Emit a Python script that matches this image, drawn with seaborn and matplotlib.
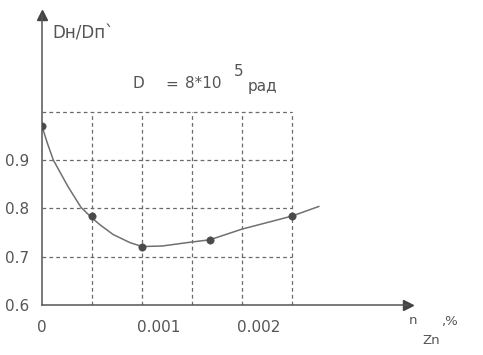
import matplotlib
matplotlib.use("Agg")
import matplotlib.pyplot as plt
import matplotlib.transforms as mtransforms
import seaborn as sns
import pandas as pd

# measured points
pt_x = [0.0, 0.0005, 0.001, 0.00168, 0.0025]
pt_y = [0.97, 0.785, 0.721, 0.735, 0.784]

# smooth fitted curve
curve_x = [0.0, 0.00005, 0.000113, 0.00026, 0.00039, 0.0005, 0.00058, 0.00071,
           0.00088, 0.001, 0.0012, 0.00145, 0.00168, 0.002, 0.0025, 0.00277]
curve_y = [0.97, 0.937, 0.90, 0.845, 0.802, 0.78, 0.766, 0.746,
           0.729, 0.721, 0.722, 0.729, 0.735, 0.757, 0.784, 0.804]

x_grid = [0.0005, 0.001, 0.0015, 0.002, 0.0025]
y_grid = [0.7, 0.8, 0.9, 1.0]
x_ticklabels = {0.0: "0", 0.001: "0.001", 0.002: "0.002"}
y_ticklabels = {0.6: "0.6", 0.7: "0.7", 0.8: "0.8", 0.9: "0.9"}

sns.set_style("white")
plt.rcParams['font.family'] = ['DejaVu Sans']

W, H = 483, 355
fig = plt.figure(figsize=(W / 100, H / 100), dpi=100)
ax = fig.add_axes([42 / W, 50 / H, 366 / W, 290 / H])

gray = "#6a6a6a"
ax.set_xlim(0, 0.00366)
ax.set_ylim(0.6, 1.2)

# dashed grid box
ax.vlines(x_grid, 0.6, 1.0, colors=gray, linestyles=(0, (3, 2.5)), linewidth=0.9)
ax.hlines(y_grid, 0, 0.0025, colors=gray, linestyles=(0, (3, 2.5)), linewidth=0.9)

curve = pd.DataFrame({"x": curve_x, "y": curve_y})
pts = pd.DataFrame({"x": pt_x, "y": pt_y})
sns.lineplot(data=curve, x="x", y="y", ax=ax, color="#707070", linewidth=1.1,
             sort=False, estimator=None)
sns.scatterplot(data=pts, x="x", y="y", ax=ax, color="#4a4a4a", s=28,
                edgecolor="#4a4a4a", zorder=5)

for s in ["top", "right"]:
    ax.spines[s].set_visible(False)
for s in ["left", "bottom"]:
    ax.spines[s].set_color("#555555")
    ax.spines[s].set_linewidth(1.1)

# arrow heads
ax.plot([0], [1], marker="^", markersize=7, color="#444444",
        transform=ax.transAxes, clip_on=False)
ax.plot([1], [0], marker=">", markersize=7, color="#444444",
        transform=ax.transAxes, clip_on=False)

ax.set_xticks([0.0] + x_grid)
ax.set_xticklabels([x_ticklabels.get(v, "") for v in [0.0] + x_grid])
ax.set_yticks(list(y_ticklabels.keys()))
ax.set_yticklabels(list(y_ticklabels.values()))
ax.tick_params(axis="x", direction="out", length=5, width=0.9, color="#555555",
               labelsize=11, labelcolor="#555555", pad=6)
ax.tick_params(axis="y", direction="inout", length=4, width=0.9, color="#555555",
               labelsize=11, labelcolor="#555555", pad=7)
offset = mtransforms.ScaledTranslation(-0.05, 0, fig.dpi_scale_trans)
for lab in ax.get_xticklabels():
    lab.set_horizontalalignment("left")
    lab.set_transform(lab.get_transform() + offset)
ax.set_xlabel("")
ax.set_ylabel("")

tc = "#555555"
def ptext(x, y, s, size=10, **kw):
    fig.text(x / W, 1 - y / H, s, fontsize=size, color=tc, va="center", **kw)

ptext(52, 33, "Dн/Dп`", size=12)
ptext(133, 84, "D", size=11)
ptext(165, 84, "=", size=11)
ptext(185, 84, "8*10", size=11)
ptext(234, 72, "5", size=11)
ptext(248, 86, "рад", size=11)
ptext(409, 321, "n", size=9.5)
ptext(422, 341, "Zn", size=9.5)
ptext(441, 321, ",%", size=9.5)

ax.set_facecolor("white")
fig.patch.set_facecolor("white")
fig.savefig("out.png", dpi=100)
